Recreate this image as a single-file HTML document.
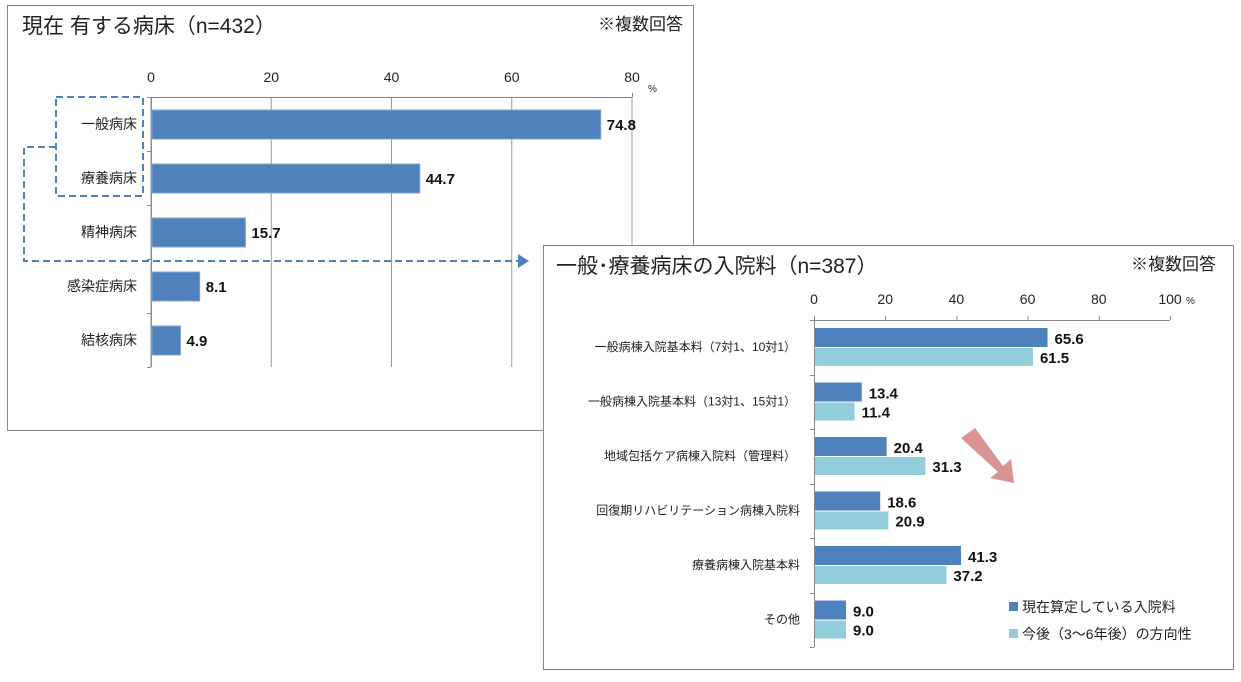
<!DOCTYPE html>
<html><head><meta charset="utf-8">
<style>
body{margin:0;background:#fff;width:1241px;height:677px;overflow:hidden;font-family:"Liberation Sans","Noto Sans CJK JP",sans-serif;}
svg text{font-family:"Liberation Sans","Noto Sans CJK JP",sans-serif;}
</style></head>
<body>
<svg id="s" width="1241" height="677" xmlns="http://www.w3.org/2000/svg">
<rect x="7.5" y="5.5" width="686" height="425" fill="#fff" stroke="#888"/>
<text x="22" y="33" font-size="21" fill="#222">現在 有する病床（n=432）</text>
<text x="683" y="30" font-size="17" fill="#222" text-anchor="end">※複数回答</text>
<g id="c1"></g>
<rect x="543.5" y="245.5" width="690" height="424" fill="#fff" stroke="#888"/>
<text x="556" y="273" font-size="21" fill="#222">一般･療養病床の入院料（n=387）</text>
<text x="1216" y="270" font-size="17" fill="#222" text-anchor="end">※複数回答</text>
<g id="c2"></g>
<rect x="56" y="97" width="87" height="99" fill="none" stroke="#4f81bd" stroke-width="2" stroke-dasharray="7,4"/>
<path d="M56,147 H24 V261 H518" fill="none" stroke="#4f81bd" stroke-width="2" stroke-dasharray="7,4"/>
<polygon points="518,254 529,261 518,268" fill="#4f81bd"/>
<polygon points="961,438 975,428 1003,466 1011,459 1014,483 990,478 998,472" fill="#d99594"/>
<rect x="1009" y="602" width="9" height="9" fill="#4f81bd"/>
<text x="1022" y="612" font-size="14" fill="#222">現在算定している入院料</text>
<rect x="1009" y="629" width="9" height="9" fill="#92cddc"/>
<text x="1022" y="639" font-size="14" fill="#222">今後（3～6年後）の方向性</text>
</svg>
<script>
const cats1=["一般病床","療養病床","精神病床","感染症病床","結核病床"];
const vals1=[74.8,44.7,15.7,8.1,4.9];
const ticks1=[0,20,40,60,80];
const cats2=["一般病棟入院基本料（7対1、10対1）","一般病棟入院基本料（13対1、15対1）","地域包括ケア病棟入院料（管理料）","回復期リハビリテーション病棟入院料","療養病棟入院基本料","その他"];
const cur2=[65.6,13.4,20.4,18.6,41.3,9.0];
const fut2=[61.5,11.4,31.3,20.9,37.2,9.0];
const ticks2=[0,20,40,60,80,100];
const NS="http://www.w3.org/2000/svg";
function mk(p,t,a,txt){const e=document.createElementNS(NS,t);for(const k in a)e.setAttribute(k,a[k]);if(txt!==undefined)e.textContent=txt;p.appendChild(e);return e;}
// chart1
(function(){
const g=document.getElementById('c1');
const x0=151,x1=632,top=97,band=54,max=80;
const X=v=>x0+v/max*(x1-x0);
const bottom=top+band*cats1.length;
ticks1.forEach(t=>{
 const l=mk(g,'line',{x1:X(t),x2:X(t),y1:top,y2:bottom,stroke:'#999','stroke-width':1});
 
 
 const tx=mk(g,'text',{x:X(t),y:82,'font-size':14,'text-anchor':'middle',fill:'#222'},t);
 
 
});
const pc=mk(g,'text',{x:648,y:92,'font-size':10,fill:'#222'},'%');


const ax=mk(g,'line',{x1:x0,x2:x1,y1:top+.5,y2:top+.5,stroke:'#888'});


mk(g,'line',{x1:x1+.5,x2:x1+.5,y1:top-4,y2:top,stroke:'#888'});
const ay=mk(g,'line',{x1:x0+.5,x2:x0+.5,y1:top,y2:bottom,stroke:'#888'});


for(let i=0;i<=cats1.length;i++)mk(g,'line',{x1:x0-4,x2:x0,y1:top+i*band+.5,y2:top+i*band+.5,stroke:'#888'});
cats1.forEach((c,i)=>{
 const y=top+i*band;
 const b=mk(g,'rect',{x:x0+1,y:y+13,width:X(vals1[i])-x0-1,height:29,fill:'#4f81bd',stroke:'#7fa3d0','stroke-width':1});
 
 
 const lb=mk(g,'text',{x:137,y:y+32,'font-size':14,'text-anchor':'end',fill:'#222'},c);
 
 
 const v=mk(g,'text',{x:X(vals1[i])+6,y:y+33,'font-size':15,'font-weight':'bold',fill:'#111'},vals1[i].toFixed(1));
 
 
});
})();
// chart2
(function(){
const g=document.getElementById('c2');
const x0=814,x1=1170,top=320,band=54.5,max=100;
const X=v=>x0+v/max*(x1-x0);
const bottom=top+band*cats2.length;
ticks2.forEach(t=>{
 mk(g,'line',{x1:X(t)+.5,x2:X(t)+.5,y1:top-4,y2:top,stroke:'#888'});
 const tx=mk(g,'text',{x:X(t),y:304,'font-size':14,'text-anchor':'middle',fill:'#222'},t);
 
 
});
const pc=mk(g,'text',{x:1186,y:304,'font-size':10,fill:'#222'},'%');


const ax=mk(g,'line',{x1:x0,x2:x1,y1:top+.5,y2:top+.5,stroke:'#888'});


const ay=mk(g,'line',{x1:x0+.5,x2:x0+.5,y1:top,y2:bottom,stroke:'#888'});


for(let i=0;i<=cats2.length;i++)mk(g,'line',{x1:x0-4,x2:x0,y1:Math.round(top+i*band)+.5,y2:Math.round(top+i*band)+.5,stroke:'#888'});
cats2.forEach((c,i)=>{
 const y=top+i*band;
 const b1=mk(g,'rect',{x:x0+1,y:y+8,width:X(cur2[i])-x0-1,height:19,fill:'#4f81bd'});
 
 
 const b2=mk(g,'rect',{x:x0+1,y:y+28,width:X(fut2[i])-x0-1,height:18,fill:'#92cddc'});
 
 
 const lb=mk(g,'text',{x:i>=3?800:796,y:y+31,'font-size':12,'text-anchor':'end',fill:'#222'},c);
 
 
 const v1=mk(g,'text',{x:X(cur2[i])+7,y:y+24,'font-size':15,'font-weight':'bold',fill:'#111'},cur2[i].toFixed(1));
 
 
 const v2=mk(g,'text',{x:X(fut2[i])+7,y:y+43,'font-size':15,'font-weight':'bold',fill:'#111'},fut2[i].toFixed(1));
 
 
});
})();
</script>
</body></html>
